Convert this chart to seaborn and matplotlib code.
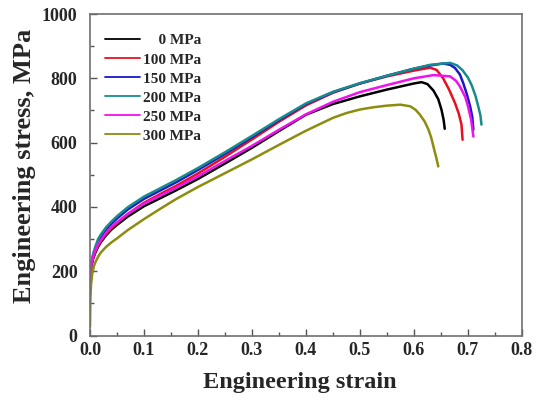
import numpy as np
import pandas as pd
import matplotlib
matplotlib.use("Agg")
import matplotlib.pyplot as plt
import seaborn as sns
from matplotlib.ticker import MultipleLocator, FormatStrFormatter

labels = ["    0 MPa", "100 MPa", "150 MPa", "200 MPa", "250 MPa", "300 MPa"]
colors = ["#000000", "#e8101e", "#1818c8", "#188c8c", "#f010f0", "#8c8c10"]

strain_0 = [0, 0.001, 0.003, 0.006, 0.01, 0.015, 0.02, 0.03, 0.04, 0.05, 0.07, 0.1, 0.13, 0.16, 0.2, 0.25, 0.3, 0.35, 0.4, 0.45, 0.5, 0.55, 0.6, 0.614, 0.625, 0.636, 0.645, 0.651, 0.655, 0.657]
stress_0 = [130, 185, 218, 240, 258, 276, 290, 312, 330, 344, 370, 402, 427, 452, 487, 535, 584, 636, 687, 720, 744, 765, 784, 788, 782, 762, 735, 702, 670, 643]

strain_100 = [0, 0.001, 0.003, 0.006, 0.01, 0.015, 0.02, 0.03, 0.04, 0.05, 0.07, 0.1, 0.13, 0.16, 0.2, 0.25, 0.3, 0.35, 0.4, 0.45, 0.5, 0.55, 0.6, 0.63, 0.642, 0.654, 0.665, 0.676, 0.683, 0.688, 0.69]
stress_100 = [135, 190, 222, 243, 262, 280, 294, 317, 335, 350, 378, 413, 440, 466, 504, 556, 610, 665, 716, 755, 784, 806, 824, 833, 826, 800, 765, 723, 690, 656, 609]

strain_150 = [0, 0.001, 0.003, 0.006, 0.01, 0.015, 0.02, 0.03, 0.04, 0.05, 0.07, 0.1, 0.13, 0.16, 0.2, 0.25, 0.3, 0.35, 0.4, 0.45, 0.5, 0.55, 0.6, 0.63, 0.654, 0.667, 0.676, 0.685, 0.691, 0.698, 0.704, 0.708, 0.71]
stress_150 = [145, 197, 228, 250, 270, 292, 306, 330, 348, 364, 392, 425, 451, 477, 515, 565, 617, 670, 720, 757, 784, 808, 830, 840, 846, 842, 832, 812, 786, 750, 713, 680, 640]

strain_200 = [0, 0.001, 0.003, 0.006, 0.01, 0.015, 0.02, 0.03, 0.04, 0.05, 0.07, 0.1, 0.13, 0.16, 0.2, 0.25, 0.3, 0.35, 0.4, 0.45, 0.5, 0.55, 0.6, 0.63, 0.667, 0.68, 0.69, 0.7, 0.707, 0.714, 0.719, 0.723, 0.725]
stress_200 = [150, 200, 232, 255, 277, 300, 314, 337, 355, 371, 399, 432, 458, 484, 521, 570, 621, 673, 722, 758, 785, 808, 830, 842, 848, 840, 825, 802, 778, 745, 713, 685, 656]

strain_250 = [0, 0.001, 0.003, 0.006, 0.01, 0.015, 0.02, 0.03, 0.04, 0.05, 0.07, 0.1, 0.13, 0.16, 0.2, 0.25, 0.3, 0.35, 0.4, 0.45, 0.5, 0.55, 0.6, 0.636, 0.667, 0.678, 0.685, 0.695, 0.70, 0.706, 0.71]
stress_250 = [138, 192, 224, 246, 265, 283, 297, 320, 338, 352, 378, 410, 435, 460, 495, 543, 590, 640, 688, 727, 757, 779, 800, 810, 806, 792, 775, 742, 713, 670, 619]

strain_300 = [0, 0.0005, 0.001, 0.002, 0.004, 0.007, 0.01, 0.015, 0.02, 0.03, 0.04, 0.05, 0.07, 0.1, 0.13, 0.16, 0.2, 0.25, 0.3, 0.35, 0.4, 0.45, 0.475, 0.5, 0.525, 0.55, 0.575, 0.593, 0.603, 0.611, 0.62, 0.627, 0.632, 0.636, 0.641, 0.645]
stress_300 = [27, 90, 130, 160, 190, 215, 228, 245, 258, 276, 290, 302, 328, 362, 394, 425, 462, 505, 548, 593, 637, 677, 692, 703, 710, 715, 718, 713, 702, 687, 665, 640, 615, 588, 555, 526]

series = [
    (labels[0], strain_0, stress_0),
    (labels[1], strain_100, stress_100),
    (labels[2], strain_150, stress_150),
    (labels[3], strain_200, stress_200),
    (labels[4], strain_250, stress_250),
    (labels[5], strain_300, stress_300),
]
frames = []
for lab, xs, ys in series:
    frames.append(pd.DataFrame({"strain": xs, "stress": ys, "label": lab}))
df = pd.concat(frames, ignore_index=True)

sns.set_style("white")
plt.rcParams["font.family"] = ["Liberation Serif", "DejaVu Serif"]
plt.rcParams["font.weight"] = "bold"

fig = plt.figure(figsize=(5.37, 4.05), dpi=100)
ax = fig.add_axes([0.1676, 0.1716, 0.8044, 0.7938])

sns.lineplot(data=df, x="strain", y="stress", hue="label", hue_order=labels,
             palette=colors, sort=False, estimator=None, units="label",
             linewidth=1.8, ax=ax, legend=True)

ax.set_xlim(0, 0.8)
ax.set_ylim(0, 1000)
ax.xaxis.set_major_locator(MultipleLocator(0.1))
ax.xaxis.set_minor_locator(MultipleLocator(0.05))
ax.yaxis.set_major_locator(MultipleLocator(200))
ax.yaxis.set_minor_locator(MultipleLocator(100))
ax.xaxis.set_major_formatter(FormatStrFormatter("%.1f"))
ax.yaxis.set_major_formatter(FormatStrFormatter("%d"))

for s in ax.spines.values():
    s.set_color("#707070")
    s.set_linewidth(1.2)
ax.tick_params(which="major", direction="in", length=5, width=1.0, color="#555555",
               labelsize=13)
ax.tick_params(axis="x", which="major", pad=5)
ax.tick_params(axis="y", which="major", pad=9)
ax.tick_params(which="minor", direction="in", length=3, width=1.0, color="#555555")
ax.tick_params(axis="both", which="both", bottom=True, left=True, top=False, right=False)
for t in ax.get_xticklabels() + ax.get_yticklabels():
    t.set_fontweight("bold")

ax.set_xlabel("Engineering strain", fontsize=17.5, fontweight="bold")
ax.set_ylabel("Engineering stress, MPa", fontsize=19, fontweight="bold")
ax.xaxis.set_label_coords(0.486, -0.115)
ax.yaxis.set_label_coords(-0.124, 0.527)

leg = ax.legend(loc="upper left", frameon=False, fontsize=11, handlelength=2.3,
                handletextpad=0.2, labelspacing=0.35, borderaxespad=0.6,
                bbox_to_anchor=(0.0, 0.986))
for t in leg.get_texts():
    t.set_fontweight("bold")
for l in leg.get_lines():
    l.set_linewidth(1.3)

fig.savefig("out.png", dpi=100)
